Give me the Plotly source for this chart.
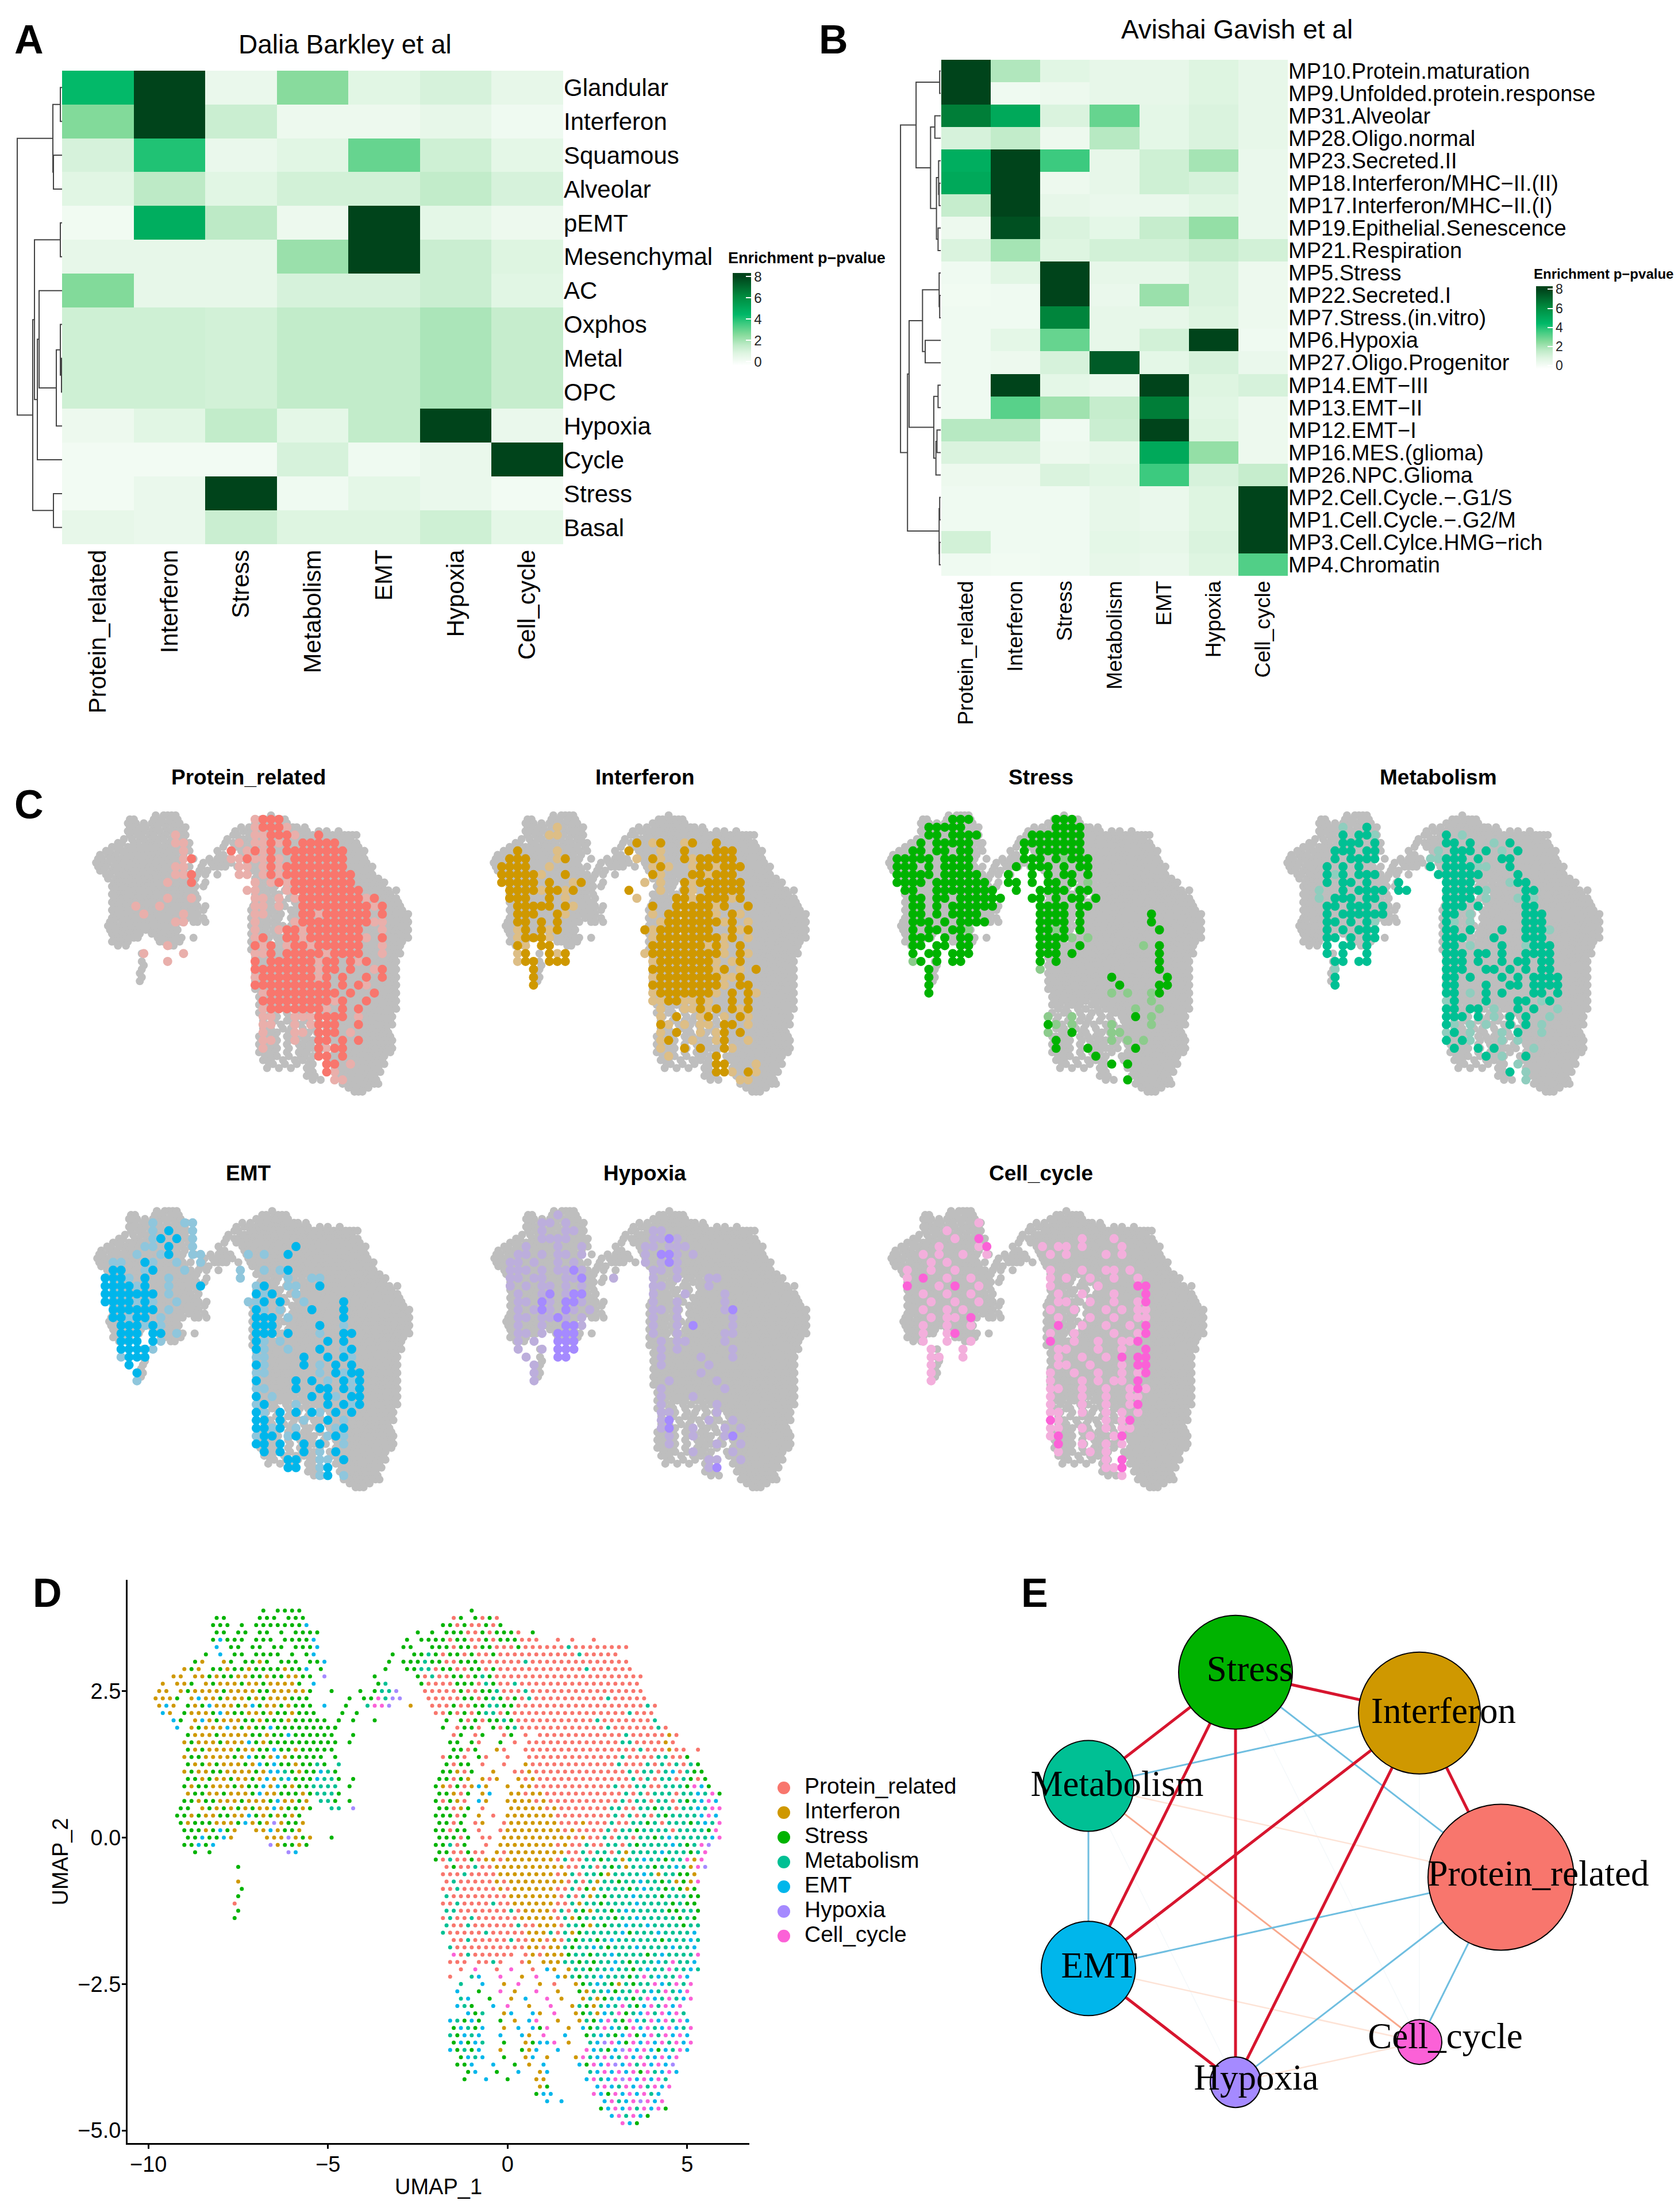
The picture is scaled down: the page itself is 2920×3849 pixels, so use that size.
import plotly.graph_objects as go

W, H = 2920, 3849
FONT = "Liberation Sans"
CATS = ["Protein_related", "Interferon", "Stress", "Metabolism", "EMT", "Hypoxia", "Cell_cycle"]
CODES = ["P", "I", "S", "M", "E", "H", "C"]
COLORS = ["#F8766D", "#CF9800", "#00B300", "#00C094", "#00B6EB", "#A58AFF", "#FB61D7"]
FAINT = ["#E9AFAB", "#DDBE86", "#8CCB8C", "#8FCDBE", "#8FC6DC", "#BCAEDC", "#F3AFDC"]

ROWS_A = ["Glandular", "Interferon", "Squamous", "Alveolar", "pEMT", "Mesenchymal", "AC", "Oxphos",
          "Metal", "OPC", "Hypoxia", "Cycle", "Stress", "Basal"]
VALS_A = [
    [4.4, 8, 0.4, 2.5, 0.7, 1.0, 0.5],
    [2.6, 8, 1.3, 0.3, 0.3, 0.5, 0.2],
    [1.0, 4.0, 0.4, 0.7, 3.0, 1.2, 0.6],
    [0.7, 1.6, 0.7, 1.1, 1.1, 1.5, 1.0],
    [0.15, 4.8, 1.6, 0.3, 8, 0.6, 0.3],
    [0.5, 0.5, 0.5, 2.2, 8, 1.3, 0.8],
    [2.6, 0.5, 0.5, 1.0, 1.0, 1.3, 0.7],
    [1.2, 1.2, 1.1, 1.5, 1.5, 1.9, 1.4],
    [1.2, 1.2, 1.1, 1.5, 1.5, 1.9, 1.4],
    [1.2, 1.2, 1.1, 1.5, 1.5, 1.9, 1.4],
    [0.3, 0.7, 1.5, 0.6, 1.5, 8, 0.4],
    [0.1, 0.1, 0.1, 1.0, 0.2, 0.4, 8],
    [0.1, 0.4, 8, 0.2, 0.6, 0.4, 0.1],
    [0.5, 0.4, 1.3, 0.8, 0.8, 1.2, 0.6],
]
ROWS_B = ["MP10.Protein.maturation", "MP9.Unfolded.protein.response", "MP31.Alveolar", "MP28.Oligo.normal",
          "MP23.Secreted.II", "MP18.Interferon/MHC\u2212II.(II)", "MP17.Interferon/MHC\u2212II.(I)",
          "MP19.Epithelial.Senescence", "MP21.Respiration", "MP5.Stress", "MP22.Secreted.I",
          "MP7.Stress.(in.vitro)", "MP6.Hypoxia", "MP27.Oligo.Progenitor", "MP14.EMT\u2212III", "MP13.EMT\u2212II",
          "MP12.EMT\u2212I", "MP16.MES.(glioma)", "MP26.NPC.Glioma", "MP2.Cell.Cycle.\u2212.G1/S",
          "MP1.Cell.Cycle.\u2212.G2/M", "MP3.Cell.Cylce.HMG\u2212rich", "MP4.Chromatin"]
VALS_B = [
    [8, 1.8, 0.7, 0.5, 0.5, 0.8, 0.5],
    [8, 0.2, 0.3, 0.5, 0.5, 0.8, 0.5],
    [6.5, 5, 0.9, 3, 0.6, 0.9, 0.5],
    [1, 1.5, 0.3, 1.7, 0.6, 0.9, 0.5],
    [4.8, 8, 3.6, 0.5, 1.2, 2, 0.4],
    [5, 8, 0.3, 0.5, 1.2, 1, 0.4],
    [1.4, 8, 0.5, 0.4, 0.4, 0.7, 0.4],
    [0.3, 7.7, 0.9, 0.6, 1.4, 2.3, 0.4],
    [0.9, 2, 0.8, 1.1, 1.1, 1.4, 1.1],
    [0.2, 0.7, 8, 0.5, 0.5, 0.9, 0.3],
    [0.15, 0.2, 8, 0.4, 2.2, 0.9, 0.3],
    [0.2, 0.2, 6.3, 0.5, 0.5, 0.8, 0.3],
    [0.2, 0.6, 3, 0.5, 1.1, 8, 0.2],
    [0.2, 0.3, 1, 7.4, 0.6, 1, 0.4],
    [0.2, 8, 0.6, 0.4, 8, 0.8, 1],
    [0.2, 3.2, 2.1, 1.4, 6.5, 0.7, 0.3],
    [1.7, 1.7, 0.2, 1.3, 8, 0.8, 0.3],
    [0.9, 0.9, 0.3, 0.5, 5, 2.3, 0.3],
    [0.3, 0.3, 0.9, 0.7, 3.6, 1, 1.4],
    [0.2, 0.2, 0.2, 0.5, 0.4, 0.8, 8],
    [0.2, 0.2, 0.2, 0.5, 0.4, 0.8, 8],
    [1.1, 0.2, 0.2, 0.6, 0.5, 0.9, 8],
    [0.2, 0.15, 0.2, 0.5, 0.4, 0.8, 3.3],
]
# dendrograms: (merge height, child, child); an int is a row index
TREE_A = (30, (92, (105, 0, 1), (93, 2, 3)),
          (57, (60, (105, 4, 5), (65, (68, 6, (98, (105, 7, (107, 8, 9)), 10)), 11)), (93, 12, 13)))
TREE_B = (114,
          (143, (187, 0, 1), (170, (178, 2, 3), (181, (185, 4, (186, 5, 6)), (184, 7, 8)))),
          (127, (130, (155, (186, 9, (187, 10, 11)), (160, 12, 13)),
                 (176, (184, 14, 15), (180, (182, 16, 17), 18))),
           (186, (187, 19, 20), (186.5, 21, 22))))

# UMAP cells: these are NOT the original ~15000 cells, which cannot be read individually.
# Coarse hand estimate from the picture: (UMAP_2 row, column, one category code per grid cell).
UMAP_X0, UMAP_DX = -10.0, 0.2
UMAP_CELLS = [
 (3.875,16,"S SSSS"),(3.75,9,"SS    SSS SSS"),(3.625,9,"SSS S SSSSSSSE"),(3.5,9,"SS SS SS S SSSS"),
 (3.375,9,"SESSS SSS SSSSE"),(3.25,9,"E SS SS SS SSSE"),(3.125,8,"S E SS SSSS S SE"),
 (3.0,6,"SI  IS SSIS SSS SSE"),(2.875,5,"ISI SSISSISSSSISSE S"),(2.75,3,"II IISISSIISSISSIISS H"),
 (2.625,2,"I IIS ISIIISIISIIIIS E"),(2.5,1,"II ISIIIISIIIISSIIIIIS  S"),(2.375,1,"IIIS IEIISIIISISIIISSS"),
 (2.25,1,"IEI SISEIIISIESIISISSS E"),(2.125,2,"EI SIIISEISSIISISSISSS"),(2.0,3,"ES IEISIIISSISSSISSSSS S"),
 (1.875,4,"E ISIIIEISISSESSSSSSSSS"),(1.75,5,"SIIISIIIISSISSESSSSSS  S"),(1.625,5,"ISIIISIIIESISSSSSSSSSS S"),
 (1.5,5,"SISIIIISIISSESSISSSSS"),(1.375,5,"ISSIIIISIESSIEISSSSS S"),(1.25,5,"SISISIIISIESESSISSMS M"),
 (1.125,5,"ISIISSIIIISIEEMSISSEMS"),(1.0,5,"SSISIISIISIEIMESSSEMMS S"),(0.875,5,"SISSIIISISSEIESISSMMMM S"),
 (0.75,5,"ISSIISIIISEIISSSISMMMS"),(0.625,4," SSISSIIISIIISEIISI MMS S"),(0.5,4,"SS ISISISISIIEISSIS  MM H"),
 (0.375,4,"SSISIISSIIESISISIS"),(0.25,4,"SISSSIIISEISIHISSI"),(0.125,5,"SSSISESI  IIEISSI"),
 (0.0,5,"SSESSEI    IIIHISI  S"),(-0.125,5,"SSESE       HISSIS"),(-0.25,6,"S S          HE"),
 (-0.5,12,"S"),(-0.75,12,"I"),(-0.875,13,"S"),(-1.0,12,"S"),(-1.125,12,"P"),(-1.25,12,"S"),(-1.375,12,"S"),
 (2.875,33,"S"),(2.75,31,"S"),(2.625,30,"  SM"),(2.5,29,"S SMMH"),(2.375,28,"S SSCMHH"),(2.25,27,"S  MCCH  I"),
 (2.125,27,"S S"),(2.0,26,"S S  S"),(1.875,26,"S"),
 (3.875,45,"S"),(3.75,42,"PS SPSP"),(3.625,41,"SSPSPPSPS"),(3.5,37,"S S SSSPPSPSSSP S"),
 (3.375,36,"S SSSSPSSPPSPSSSPPP  P P  P"),
 (3.25,35,"SS  SSSPSSPSSPPPSPPPPPPMPPPPPPPP"),
 (3.125,34,"S  SSMSPSSPSPPSPPPPPPPPPPPMPPPPP"),
 (3.0,33,"S SSSMSSPPSSSPPPPPPMPPPPPPPPPPPPPP"),
 (2.875,36,"SSMMPSSPPSSPSPPPPPPPPPPPPMPPPPPP"),
 (2.75,37,"SPMPPSSPSMSPPPPPPPPPPPPPPPPPPPPP"),
 (2.625,38,"SPPPPSSSPMSPPMPPPPPPPPPPPPPPPPP"),
 (2.5,38,"PPPPPSPPSSMPPPMPPPPPPPPPPPPPPPP"),
 (2.375,39,"PPPPPSSPSMSPSPMPPPPPPPPPPMPPPPP"),
 (2.25,39,"PPPSPPSSMMSSPPPPPPPPPPPPPPPPPPMP"),
 (2.125,40,"PPSPSPSMMPSPPPPPPPPPPPPPPPPMPPP"),
 (2.0,41,"S SPSPSSMSPPPPPPPPPPPMPPPPPPPM"),
 (1.875,41,"S PSSP SPSMPPPPPPPPPPPPMPPPPPPMP"),
 (1.75,42,"PS PS  PS P PPPPPPPPPPPPMPPPPPIP"),
 (1.625,42,"SS SP  S P PPPPPPPPPPPPPMMPPPPIP"),
 (1.5,42,"SSPS  IP  PPPPPPPPPPPPPPPPMPPPIPP P"),
 (1.375,41,"PSSP SP  P  PPPPPPPPPPPPPMPPPPMMPPS"),
 (1.25,41,"SPSS P  P  IPPPPPPPPPPPPMPPPMPMPMPMS"),
 (1.125,41,"SSIPS  I  PPIPPPPPPPPPPPPPMPMMPMEPMSS"),
 (1.0,40,"SSPSI IPI  IPIPPPPPPPPPPPPPMPMPMMPMSPS"),
 (0.875,40,"SIPSPIEI  I IIPPPPPPPPPPPMPPMMPPMMMSCES"),
 (0.75,40,"SSIPS IE  IIPIIPPPPPPPPPPPMPMPMMMPMMEMCS"),
 (0.625,40,"SPSIP EI  IIIIPIPPPPPPPPPPMPMMPMMPMSMECE"),
 (0.5,40,"SSPIS P   IIIIIPIPPPPPPPMMPPMMSMMPMMEMCC"),
 (0.375,39," SSSPS I P IIIIIIIPPPPPPPPMPMPMPMSMMMMECE"),
 (0.25,39," SSPS PI  PIIIIIIIPPPIPPPMPPMMSMPMMMSMEMC"),
 (0.125,39," SSPSS P  PIIIIIIIIPIPPPPMPMMSMMMMPMMMMSC"),
 (0.0,39," SSSPS PP IIIIIIIIIIPIPPMPMMPMMSMEMMMMMEC"),
 (-0.125,39," SSMPS  P IIIIIIIIPIPPMPPMMPMSMMMMEMSMCH"),
 (-0.25,40,"SSPPSPP IPIIIIIIIIPPMPMMPMIMMMMEMMMSMC"),
 (-0.375,40,"SPMPPSPIIPIIIIIIIPMPPMMSMMIMMEMMSMMCIC"),
 (-0.5,40," PSPPMPPIIIIIIIIIIPPMMPMSMIMMMSMMEMICH"),
 (-0.625,41,"PPPMPPPPIIIIIIIIPIMPMMSIMMMMEMIMMSSI"),
 (-0.75,41,"PMPPPPPIPIIIIIIIIPMPMIMMSMMEMMSMISIC"),
 (-0.875,41,"PPMPPPPPIPIIIIIIPPMPSIMMMMSMEMMSMSIS"),
 (-1.0,41,"MPPPPPPPPIIIIIIIPMPMIMSMMMEMMMSMMMSS"),
 (-1.125,41,"PPMPPPPMPPIIIIIIPPMIMMSMMMMEMMMMSMSS"),
 (-1.25,41,"MMPPPPPPPMPIIIIPMPMSIMMSMEMMMMMSSMMS"),
 (-1.375,41,"PMPPMPPPPPPIIIIIPMISMMMMSMMEMMMMMSMS"),
 (-1.5,41,"MPPMPPPPPPMPPIIIPMMSIMSMMEMMEMMMMSMM"),
 (-1.625,41,"MPPPPPMPPPPPIIIMPMISMMMMMESMMMEMMMME"),
 (-1.75,42,"PPMPPPPPMPPIIPIPMSMMSMEMMMMMMSMMMEM"),
 (-1.875,42,"MPPPPPPPPPPIIPIIMSMMEMSMMMEMMMMEMME"),
 (-2.0,42,"CPMPPPPPP PIPIIISMMSMMEMMMMSMEMMMMC"),
 (-2.125,42,"PPP PPMP  PI IIIMMSMSMMEMSMMMEMCMME"),
 (-2.25,42," P C  P C  P EI IMMSMMEMMSMEMMCMMEM"),
 (-2.375,42,"P  ME  C  I C  EIMSMMEMMMSMCMEMMCE"),
 (-2.5,43,"M  E  I C  I P  ISMEMSIMSMMCEMCMC"),
 (-2.625,43,"E  S  C I  C  I  SIMMESMMCMEMCMEC"),
 (-2.75,43,"ME  S  I E  C I  IMISMEMSMCEMCMEC"),
 (-2.875,43,"EMS  E C  I  C  IMSIMEMCMSECMCEC"),
 (-3.0,42,"  ESM  IE  EI C  ISMIEMCSMECMCECM"),
 (-3.125,42,"EMSES  S I EC  I  IMSECMSCEMCECMCE"),
 (-3.25,42,"SEMSE  I E ESC  I ESMCEMSCECMECEMC"),
 (-3.375,42,"MSEME  E  EI C  E  SMEMSECSECMCECE"),
 (-3.5,42,"SESEM  S  ISEEC I  MEHCESCECECMCEC"),
 (-3.625,42,"ESMSE  I  SIE  E   CEMSEHCECESEMCE"),
 (-3.75,43,"SEME  S  IE I   ICMECEMCECMECEC"),
 (-3.875,43,"SSE  E  S I E    ESCECHECMCECEH"),
 (-4.0,44,"SE  S  E  IE     MECECECSCMECE"),
 (-4.125,44,"S  E  S   II     ECMECHCECECM"),
 (-4.25,54,"IS      ECEMCECMCEC"),
 (-4.375,54,"SEE     CESCECECME"),
 (-4.5,55,"E E     ECMECHCEC"),
 (-4.625,63,"SECECMCECS"),(-4.75,64,"ECMCES"),(-4.875,66,"CES"),
]

# panel C: where each category is marked, coarse estimate; # marked, + faded, one string per row of C_Y
C_Y = [3.75 - 0.25 * k for k in range(35)]
C_X0, C_DX = -10.0, 0.4
C_MAPS = {
"Protein_related": [
"                    +###",
"                    +###+",
"          +         ++###+  #   ",
"          ++      + ++#+# #####",
"           +     # +#+# ########",
"           +#    ++#++#+ #######",
"          ++      ++ +#+########",
"          ++#     ++ +#+#########",
"         +  #       + +#+########",
"                   ++   +#########",
"         +  +       ++ + +########+#",
"     +  +           ++ +  #########+#",
"      +    +        ++    ##+###### # ",
"          ++        +    +#########++",
"                    +  +##+#######  +",
"                    +#  ##+#######+ #",
"         +          #+# +##+######  +",
"      +    +        ++# #####+####  +",
"         +          # ######+## #+#",
"                    ########+## #  +#",
"                    +#######+# #  # #",
"                    ########## # #+",
"                     +######### #  #",
"                     #########+#  # ",
"                     +#######+ # #",
"                     ++  +++#### +",
"                     ++  + +###  #",
"                     +   ++ ### +",
"                     ++  +  ## # #",
"                     +      #+##",
"                            ## #",
"                             ## +",
"                             #+",
"                              ++",
],
"Interferon": [
"",
"        +",
"       ++          ",
"                  # +#  +#  #",
"   #    +        #   +  #   ###",
"  ###   +#        + #+  #+#####",
" ####  +            +#+  +##+###",
" #####+  #          #+   ##+###",
" ##### #  +#       + +  #+######",
"  ####+##+#      #   +  #+ #####",
"  ###  # +        +    ##+####+#",
"   ##### #+         #  #####+#  #",
"   ###  #+          + ######+ #+",
"   ## # #            +#######+# +",
"   +# #+#          #+#######  #+#",
"   +###+            +########+# +",
"   #+ ##            #######+#+ #",
"   +#  #+#         +#########+ #+",
"   +## ###          +#######+ +#",
"     #              ########+# + #",
"     #              +########++#",
"     #              #########+ ##",
"                    +#######+ # #+",
"                    ++##++#+  # #",
"                     +  ++#+# #+#",
"                     + #  +# + #+",
"                     #+ + ++ ## +",
"                     + #  + +# #",
"                     +#  +  +#  +",
"                     +  # #  #+",
"                      +     # ",
"                            ##   +",
"                            ##+ #+",
"                               ++",
],
"Stress": [
"        ###          ###",
"     #####           ####",
"     ## ####      #######",
"    # #####      ########",
"   ## ## ##      # ######",
" ##### ####      ### #+###",
" ### # ####     # ### # ##",
" ##### #####   #  # # ## #",
" #### #######  ## # ## # +",
"  ##  ########  #  #### ##",
"   ## ## ######   ## # ## #",
"   ## # ######     #### ##",
"   ## # ####       #### #        #",
"   ### # ####      #### #        #",
"   # ## ##+        ##+# #         #",
"   ### # ##        ####+ +        ",
"   ## ## ##        ###  #       + #",
"   # ## ###        ### #          #",
"   +# # ##         # #            #",
"     #             +              #",
"     #                      #      #",
"     #                       #    ##",
"     #                      + +  +#",
"                                 +",
"                               +  +",
"                    +  +       # +",
"                    #+ +    +    +",
"                    +  #    ++   ",
"                     #      + + +",
"                     #   #     # ",
"                          #    ",
"                            # #",
"                             ",
"                              #",
],
"Metabolism": [
"",
"       +  #",
"       # ##+        # +",
"       ### #        ## #  + #",
"      ### ##       + ### # + #",
"      # ####      ++### #  ##",
"     # # #        # ####++  #",
"     #+# ###       ######    #",
"     # ## #   #     ####    +##",
"    +  # #### ##    #####+    ##",
"    + ### ##        #### +   +#+",
"     ## ### #       ### #     ##",
"     # ######       ## +      ###",
"     ## # #+        #+ +      ###",
"     # # ###        ## #   #  ###+",
"     ## # ##        ###   #   ###",
"     # ## #         ## +   #  +###",
"     # #  #         ### ## #  ####",
"      ## ##         ### #  # ## ##",
"      +             ###  ## # # ##",
"      #             ## #   # # ####",
"      #             ##   #  ## ####",
"                    ## + # #   ## #",
"                    +#   #   ## +#",
"                    ## ## +  # #  +",
"                    ### # + # #  +",
"                    #+ + +  # # +",
"                    +# +   + #  +",
"                    # #+   + +   ",
"                     #  # #    +",
"                         # +  #",
"                             +",
"                            # +",
"                              +",
],
"EMT": [
"",
"       +   ++",
"       + #  +",
"       +# # +",
"      ++ #  +            #",
"     +  +#  ++     + +  #",
"  ++  #+  +  +",
"  ##  +#   +      +  + +#",
" ###+ #  +        +     +  ++",
" ####+#  +   #      +#  ++  #",
" ####### +          #+#  + ",
" ####+#+  +        ++# #  +    #",
"  ###### +          #+ +   #   #",
"  ##+## +           ### +      #",
"   ###+#+           ###     #  +",
"   ### ## +         ### #   +  ##",
"   ### #+           #+ +     # #",
"   ####+            #+  +   #  +#",
"   +###             ++    #  # #+",
"    #               #+    # + # #",
"     #              ++      + #+##",
"     +              #    # # + #+#",
"                    ++   #  ## #+#",
"                    # +    # #+ ##",
"                    +#   +   # #+#",
"                    #+ # # #+ # #",
"                    ## #  +  # +",
"                    ##+# +  # +#",
"                    +## +#   +#+",
"                    ## #  # #  +",
"                     # #  # + #",
"                        ##  ++ #",
"                        ##  +#",
"                            +# +",
],
"Hypoxia": [
"        +",
"      ++ +",
"      +  ++         ++",
"      ++++          ++#+",
"    +   +  +       ++ +++",
"   ++ + ++ +       + ##+ +",
"  ++ +  + +        + +#+ ",
"  +++ + ++#+        ++ +",
"  ++ ++  ++#   +    +  +   ++",
"  + + ++ + +        ++     +",
"   +  +# +##        +   +    +",
"   ++ #+ ##+        +  +     +",
"   + +#+ #+ +       ++ +     +#",
"   ++ ++#+ +        +  +      +",
"   +  +  ##+        +  + #    +",
"   ++ + ###         +  +     ++",
"   + +  ###          + ++    +",
"   +  + ###          + +      +",
"    +   ##           +    +   +",
"     +               +     +",
"     +                    +",
"     +                +     +",
"                     +       +",
"                     +   +   ",
"                     +      +",
"                     ++     +",
"                     +#    +  +",
"                     +#  +   + +",
"                      +  +   +#",
"                      +     +  +",
"                         +    +",
"                           ++  +",
"                           +#  ",
"                               ",
],
"Cell_cycle": [
"",
"           +",
"       +   ",
"        +  #            +   +",
"      +    +#      + ++ +    +",
"    + +  +  +       + +    + +",
"     + +    ",
"  +  +  +           +   +  ++ +",
"  + #  +  +         + +  +  +  +",
"  #   + #  +        +     +    ##",
"    +  +  +          +  +   +   #",
"     +  +  +         ++  +  +  +#",
"    +  + +          +  +   + + ++",
"     + ++ #          +   +  +  ++",
"    +  +  +          #  +  +  + #",
"    +  +#           +  +    +  +#",
"    +  +  +         #  +  +  ++#",
"     +   +           ++   +  +  #",
"     ++  +           +  +  + # ##",
"     +               ++  +   + ##",
"     +              +  +  +  + +#",
"     +              +   + + ++ #",
"                    ++  +  +  +#+",
"                    +   +  +  ++",
"                    +   +  +  +#",
"                    ++  +  + + +",
"                    #+     + +#",
"                    ++  +  + ++",
"                    +#   +  +#",
"                     #  +  + +",
"                     +   + +",
"                           + #",
"                           ++#",
"                             +",
],
}

NODES = ["Stress", "Interferon", "Protein_related", "Metabolism", "EMT", "Hypoxia", "Cell_cycle"]
NODE_COLORS = ["#00B300", "#CF9800", "#F8766D", "#00C094", "#00B6EB", "#A58AFF", "#FB61D7"]
NODE_X = [2150, 2470, 2612, 1894, 1894, 2150, 2470]
NODE_Y = [2911, 2982, 3268, 3109, 3427, 3625, 3555]
NODE_D = [198, 212, 254, 158, 164, 88, 78]
LABEL_X = [2175, 2512, 2677, 1944, 1913, 2186, 2515]
LABEL_Y = [2911, 2984, 3267, 3111, 3427, 3622, 3550]
EDGE_GROUPS = [
    ("#F4F8FA", 1.5, [("Stress", "Cell_cycle"), ("Metabolism", "Hypoxia"), ("Interferon", "Cell_cycle")]),
    ("#FDE3D6", 2.5, [("Metabolism", "Protein_related"), ("EMT", "Cell_cycle"), ("Hypoxia", "Cell_cycle")]),
    ("#F8A88C", 3, [("Metabolism", "Cell_cycle")]),
    ("#6FBEE0", 3, [("Stress", "Protein_related"), ("Interferon", "Metabolism"), ("Metabolism", "EMT"),
                    ("Protein_related", "EMT"), ("Protein_related", "Hypoxia"), ("Protein_related", "Cell_cycle")]),
    ("#D7152E", 5, [("Stress", "Interferon"), ("Stress", "Metabolism"), ("Stress", "EMT"), ("Stress", "Hypoxia"),
                    ("Interferon", "Protein_related"), ("Interferon", "EMT"), ("Interferon", "Hypoxia"),
                    ("EMT", "Hypoxia")]),
]

COLORSCALE = [[0, "#FFFFFF"], [0.13, "#DFF5E2"], [0.22, "#BFEBC8"], [0.33, "#87DB9C"], [0.45, "#3FCB80"],
              [0.55, "#00B868"], [0.75, "#008A3E"], [0.96, "#00441B"], [1, "#00441B"]]


def dx(a, b):
    return [a / W, b / W]


def dy(top, bottom):
    return [1 - bottom / H, 1 - top / H]


fig = go.Figure()
layout = {}
anns = []
n_ax = [0]


def new_axes(xdom, ydom, **xy):
    n_ax[0] += 1
    n = n_ax[0]
    sfx = "" if n == 1 else str(n)
    base = dict(showgrid=False, zeroline=False, showticklabels=False, ticks="", showline=False)
    xa = dict(base, domain=xdom, anchor="y" + sfx, **xy.get("x", {}))
    ya = dict(base, domain=ydom, anchor="x" + sfx, **xy.get("y", {}))
    layout["xaxis" + sfx] = xa
    layout["yaxis" + sfx] = ya
    return "x" + sfx, "y" + sfx


def text(px, py, s, size, bold=False, color="#000000", family=FONT, angle=0, anchor="center"):
    anns.append(dict(xref="paper", yref="paper", x=px / W, y=1 - py / H, text="<b>%s</b>" % s if bold else s,
                     showarrow=False, font=dict(size=size, color=color, family=family), xanchor=anchor,
                     yanchor="middle", textangle=angle))


def dendro(node, leaf_h, xs, ys):
    if isinstance(node, int):
        return float(node), leaf_h
    h, a, b = node
    ya, ha = dendro(a, leaf_h, xs, ys)
    yb, hb = dendro(b, leaf_h, xs, ys)
    xs.extend([ha, h, h, hb, None])
    ys.extend([ya, ya, yb, yb, None])
    return (ya + yb) / 2, h


def heat_panel(rows, vals, box, dbox, tree, leaf_h, drange, fs_row, fs_col, cb):
    x, y = new_axes(dx(box[0], box[1]), dy(box[2], box[3]),
                    x=dict(showticklabels=True, tickangle=-90, tickfont=dict(size=fs_col, family=FONT, color="#000"),
                           tickmode="array", tickvals=CATS, ticktext=CATS),
                    y=dict(showticklabels=True, side="right", autorange="reversed", tickmode="array", tickvals=rows,
                           ticktext=rows, tickfont=dict(size=fs_row, family=FONT, color="#000")))
    fig.add_trace(go.Heatmap(z=vals, x=CATS, y=rows, xaxis=x, yaxis=y, colorscale=COLORSCALE, zmin=-0.35, zmax=8.35,
                             colorbar=dict(x=cb[0] / W, xanchor="left", y=1 - cb[2] / H, yanchor="top", xpad=0, ypad=0,
                                           len=cb[3] - cb[2], lenmode="pixels", thickness=cb[1] - cb[0],
                                           thicknessmode="pixels", outlinewidth=0, tickvals=[0, 2, 4, 6, 8],
                                           ticks="inside", ticklen=9, tickcolor="#FFFFFF", tickwidth=2,
                                           tickfont=dict(size=cb[4], family=FONT, color="#222"))))
    xd, yd = new_axes(dx(dbox[0], dbox[1]), dy(box[2], box[3]),
                      x=dict(range=drange), y=dict(range=[len(rows) - 0.5, -0.5]))
    xs, ys = [], []
    dendro(tree, leaf_h, xs, ys)
    fig.add_trace(go.Scatter(x=xs, y=ys, xaxis=xd, yaxis=yd, mode="lines", line=dict(color="#444444", width=2),
                             showlegend=False, hoverinfo="skip"))


heat_panel(ROWS_A, VALS_A, (108, 980, 122, 947), (0, 108), TREE_A, 108, [0, 108], 42, 42, (1275, 1307, 474, 635, 24))
heat_panel(ROWS_B, VALS_B, (1638, 2241, 103, 1002), (1554, 1638), TREE_B, 189, [100, 190], 38, 37, (2673, 2702, 497, 641, 23))
text(600, 76, "Dalia Barkley et al", 46)
text(2152, 50, "Avishai Gavish et al", 46)
text(1404, 448, "Enrichment p\u2212pvalue", 27, bold=True)
text(2790, 476, "Enrichment p\u2212pvalue", 24, bold=True)
for s, px, py in [("A", 50, 68), ("B", 1450, 68), ("C", 50, 1400), ("D", 82, 2773), ("E", 1800, 2773)]:
    text(px, py, s, 70, bold=True)

# cells
cell_x, cell_y, cell_c = [], [], []
for yy, col, s in UMAP_CELLS:
    shift = 0.1 if round((3.875 - yy) / 0.125) % 2 else 0.0
    for i, ch in enumerate(s):
        if ch != " ":
            cell_x.append(UMAP_X0 + UMAP_DX * (col + i) + shift)
            cell_y.append(yy)
            cell_c.append(ch)

C_BOXES = [(143, 1401), (835, 1401), (1523, 1401), (2216, 1401), (145, 2090), (836, 2090), (1527, 2090)]
C_TITLES = [(432, 1353), (1122, 1353), (1812, 1353), (2503, 1353), (432, 2042), (1122, 2042), (1812, 2042)]
for k, cat in enumerate(CATS):
    l, t = C_BOXES[k]
    x, y = new_axes(dx(l, l + 588), dy(t, t + 517), x=dict(range=[-10.5, 6.5]), y=dict(range=[-5.2, 4.2]))
    fig.add_trace(go.Scatter(x=cell_x, y=cell_y, xaxis=x, yaxis=y, mode="markers", showlegend=False, hoverinfo="skip",
                             marker=dict(size=14, color="#BEBEBE")))
    for ch, col in (("+", FAINT[k]), ("#", COLORS[k])):
        xs, ys = [], []
        for r, row in enumerate(C_MAPS[cat]):
            for i, c in enumerate(row):
                if c == ch:
                    xs.append(C_X0 + C_DX * i + C_DX / 2)
                    ys.append(C_Y[r])
        fig.add_trace(go.Scatter(x=xs, y=ys, xaxis=x, yaxis=y, mode="markers", showlegend=False, hoverinfo="skip",
                                 marker=dict(size=16, color=col)))
    text(C_TITLES[k][0], C_TITLES[k][1], cat, 37, bold=True)

# D
ax_line = dict(showline=True, linecolor="#000", linewidth=3, ticks="outside", ticklen=7, tickwidth=3, tickcolor="#000",
               showticklabels=True, ticklabelstandoff=-6, tickfont=dict(size=38, family=FONT, color="#000"))
x, y = new_axes(dx(222, 1304), dy(2750, 3731),
                x=dict(ax_line, range=[-10.58, 6.73], tickmode="array", tickvals=[-10, -5, 0, 5],
                       ticktext=["\u221210", "\u22125", "0", "5"]),
                y=dict(ax_line, range=[-5.215, 4.4], tickvals=[-5, -2.5, 0, 2.5],
                       ticktext=["\u22125.0", "\u22122.5", "0.0", "2.5"], tickmode="array"))
text(763, 3807, "UMAP_1", 38)
text(105, 3241, "UMAP_2", 38, angle=-90)
for code, cat, col in zip(CODES, CATS, COLORS):
    xs = [a for a, c in zip(cell_x, cell_c) if c == code]
    ys = [b for b, c in zip(cell_y, cell_c) if c == code]
    fig.add_trace(go.Scatter(x=xs, y=ys, xaxis=x, yaxis=y, mode="markers", name=cat, showlegend=False,
                             marker=dict(size=7, color=col), hoverinfo="skip"))

# D key
x, y = new_axes(dx(1340, 1720), dy(3091, 3392), x=dict(range=[0, 380]), y=dict(range=[6.5, -0.5]))
fig.add_trace(go.Scatter(x=[24] * 7, y=list(range(7)), xaxis=x, yaxis=y, mode="markers", showlegend=False,
                         hoverinfo="skip", marker=dict(size=22, color=COLORS, opacity=1)))
fig.add_trace(go.Scatter(x=[60] * 7, y=list(range(7)), xaxis=x, yaxis=y, mode="text", text=CATS, showlegend=False,
                         hoverinfo="skip", textposition="middle right",
                         textfont=dict(size=39, family=FONT, color="#000")))

# E
x, y = new_axes(dx(1700, 2920), dy(2700, 3849), x=dict(range=[1700, 2920]), y=dict(range=[3849, 2700]))
for col, wd, edges in EDGE_GROUPS:
    xs, ys = [], []
    for a, b in edges:
        ia, ib = NODES.index(a), NODES.index(b)
        xs += [NODE_X[ia], NODE_X[ib], None]
        ys += [NODE_Y[ia], NODE_Y[ib], None]
    fig.add_trace(go.Scatter(x=xs, y=ys, xaxis=x, yaxis=y, mode="lines", line=dict(color=col, width=wd),
                             showlegend=False, hoverinfo="skip"))
fig.add_trace(go.Scatter(x=NODE_X, y=NODE_Y, xaxis=x, yaxis=y, mode="markers", showlegend=False, hoverinfo="skip",
                         marker=dict(size=NODE_D, color=NODE_COLORS, opacity=1, line=dict(color="#000", width=2))))
fig.add_trace(go.Scatter(x=LABEL_X, y=LABEL_Y, xaxis=x, yaxis=y, mode="text", text=NODES, showlegend=False,
                         hoverinfo="skip", textfont=dict(size=63, family="Liberation Serif", color="#000")))

fig.update_layout(width=W, height=H, margin=dict(l=0, r=0, t=0, b=0), paper_bgcolor="#fff", plot_bgcolor="#fff",
                  annotations=anns, font=dict(family=FONT), showlegend=False, **layout)
fig.write_html("out.html", config=dict(displayModeBar=False), post_script="document.body.style.margin='0';")
